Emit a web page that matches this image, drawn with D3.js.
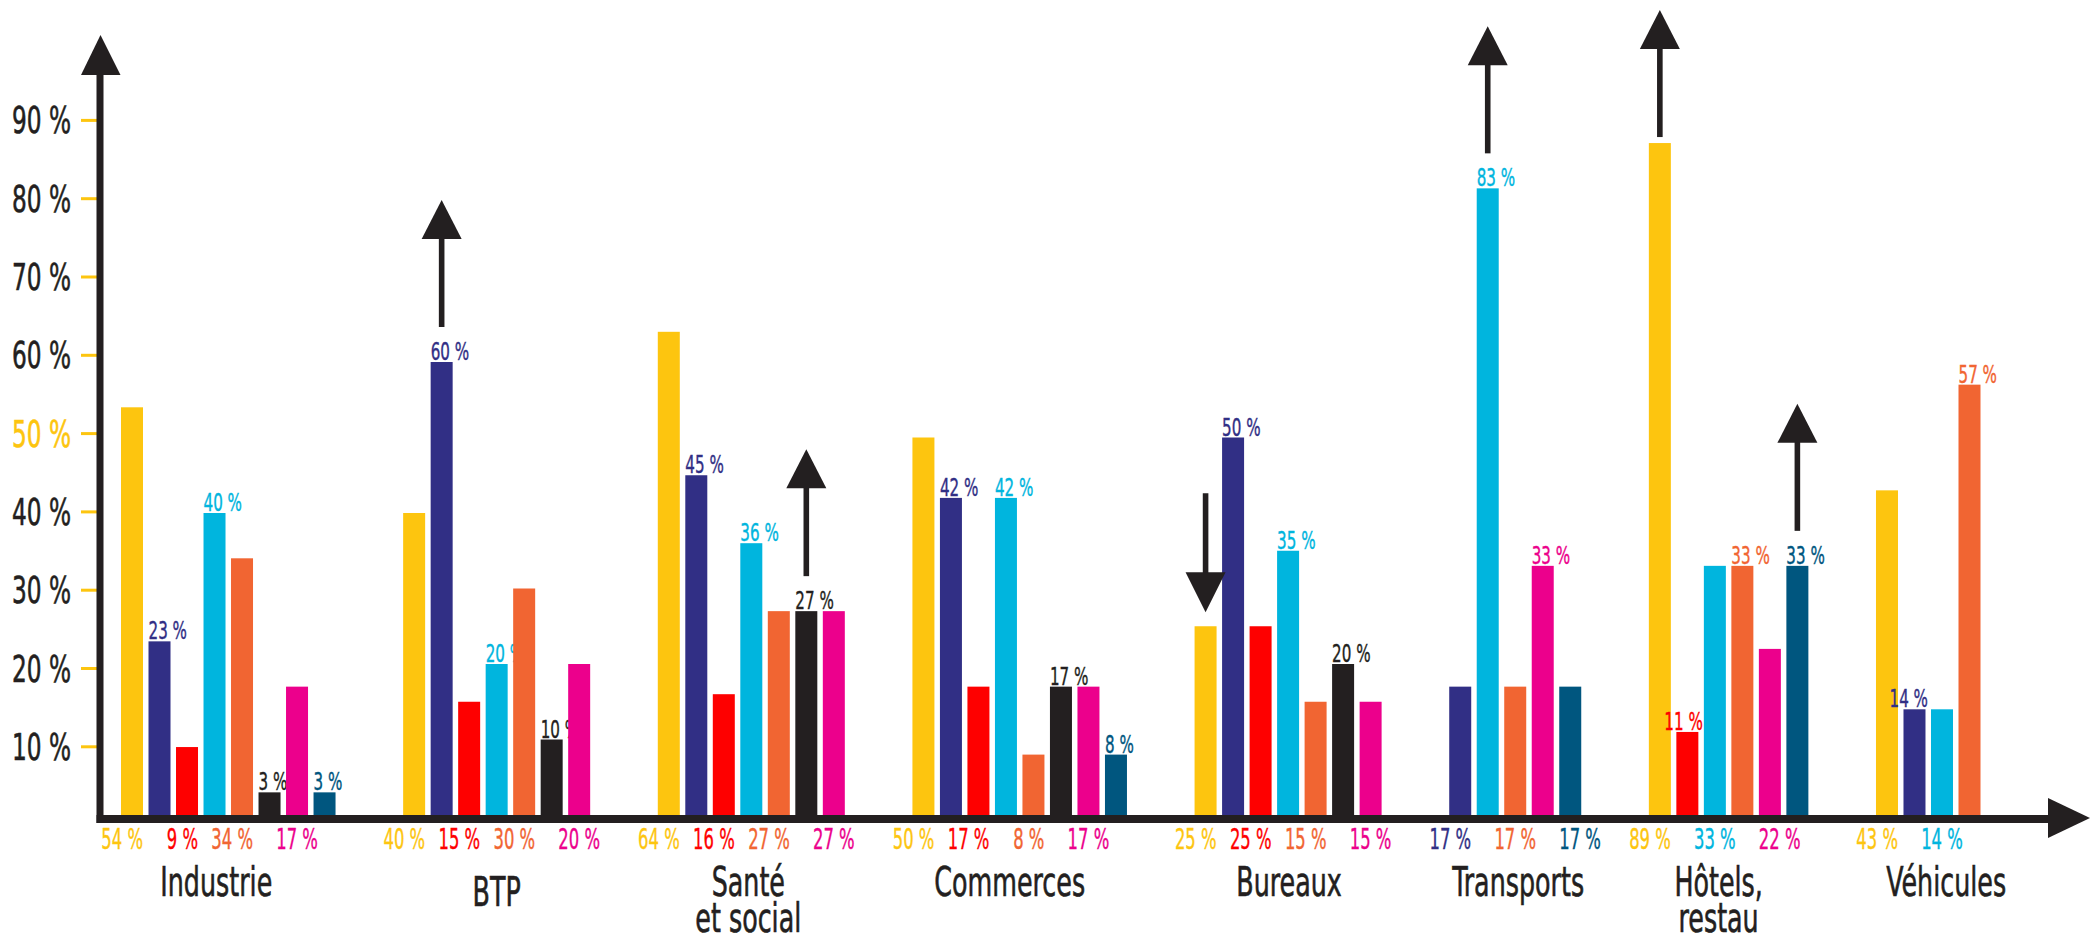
<!DOCTYPE html>
<html>
<head>
<meta charset="utf-8">
<script src="https://cdn.jsdelivr.net/npm/d3@7"></script>
<style>
  html, body { margin: 0; padding: 0; background: #ffffff; }
  svg { display: block; }
  text { font-family: "DejaVu Sans Condensed", "DejaVu Sans", sans-serif; }
</style>
</head>
<body>
<svg id="chart" width="2098" height="942"></svg>
<script>
// ---------------- DATA ----------------
const categories = ["Industrie", "BTP", "Santé\net social", "Commerces", "Bureaux", "Transports", "Hôtels,\nrestau", "Véhicules"];
const seriesKeys = ["s1", "s2", "s3", "s4", "s5", "s6", "s7", "s8"];
const seriesColors = ["#FDC50F", "#312F85", "#FE0000", "#00B5DE", "#F16532", "#231F20", "#EC008C", "#00567F"];
const s1Yellow   = [54, 40, 64, 50, 25, null, 89, 43];
const s2Navy     = [23, 60, 45, 42, 50, 17, null, 14];
const s3Red      = [9, 15, 16, 17, 25, null, 11, null];
const s4Cyan     = [40, 20, 36, 42, 35, 83, 33, 14];
const s5Orange   = [34, 30, 27, 8, 15, 17, 33, 57];
const s6Black    = [3, 10, 27, 17, 20, null, null, null];
const s7Pink     = [17, 20, 27, 17, 15, 33, 22, null];
const s8DarkBlue = [3, null, null, 8, null, 17, 33, null];
const yTickValues = [10, 20, 30, 40, 50, 60, 70, 80, 90];
const yTickHighlight = [50];
// trend arrows: category index, series index, direction
const arrowCats   = [1, 2, 4, 5, 6, 6];
const arrowSeries = [1, 5, 0, 3, 0, 7];
const arrowDirs   = ["up", "up", "down", "up", "up", "up"];

// ---------------- LAYOUT / STYLE ----------------
const INK = "#231F20";
const TICK_COLOR = "#FDC50F";
const BAR_W = 22;
const GAP_UNITS = 2.258;
const seriesData = [s1Yellow, s2Navy, s3Red, s4Cyan, s5Orange, s6Black, s7Pink, s8DarkBlue];
const bottomAnchor = ["end", "end", "end", "middle", "end", "middle", "middle", "start"];
const bottomAnchorOverride = { "5-4": "middle", "6-6": "start" };
const topLabelDx = { "6-2": -12, "7-1": -14 };
const catDx = [-12, 0, -3, -10, 1, 3, -10, 18];
const catDy = [0, 10, 0, 0, 0, 0, 0, 0];

const svg = d3.select("#chart");

// horizontal condensing factor so that a sample string reaches the wanted width
function squeeze(sample, size, wanted) {
  const t = svg.append("text").attr("font-size", size).text(sample);
  const w = t.node().getComputedTextLength();
  t.remove();
  return Math.min(1, wanted / w);
}
const SX_TICK = squeeze("90 %", 37, 59);
const SX_TOP = squeeze("60 %", 25.5, 38.5);
const SX_BOT = squeeze("54 %", 29, 41.7);
const SX_CAT = squeeze("Industrie", 40, 112);

// build bars (packed within each group)
const bars = [];
let idx = 0;
categories.forEach((c, ci) => {
  let pos = 0;
  seriesData.forEach((arr, si) => {
    const v = arr[ci];
    if (v == null) return;
    bars.push({ ci, si, v, pos, unit: idx + ci * GAP_UNITS });
    idx++; pos++;
  });
});

const x = d3.scaleLinear().domain([0, d3.max(bars, d => d.unit)]).range([121, 1958.5]);
const yBar = d3.scaleLinear().domain([0, 100]).range([815, 60]);
const yTick = d3.scaleLinear().domain([0, 100]).range([824.6, 41.6]);

// ---- Y axis ticks + labels
const yAxis = d3.axisLeft(yTick)
  .tickValues(yTickValues)
  .tickSize(20)
  .tickPadding(0)
  .tickFormat(d => d + " %");
const gy = svg.append("g").attr("transform", "translate(101,0)").call(yAxis);
gy.attr("font-family", null);
gy.select(".domain").remove();
gy.selectAll(".tick line").attr("stroke", TICK_COLOR).attr("stroke-width", 3);
gy.selectAll(".tick text")
  .attr("x", null).attr("dy", null)
  .attr("transform", `translate(-30,13) scale(${SX_TICK},1)`)
  .attr("text-anchor", "end")
  .attr("font-size", 37)
  .attr("fill", d => yTickHighlight.includes(d) ? TICK_COLOR : INK)
  .attr("stroke", d => yTickHighlight.includes(d) ? TICK_COLOR : INK)
  .attr("stroke-width", 0.6);

// ---- bars and value labels (interleaved draw order)
const gBars = svg.append("g");
bars.forEach(b => {
  const x0 = x(b.unit);
  const yT = yBar(b.v);
  gBars.append("rect")
    .attr("x", x0).attr("y", yT)
    .attr("width", BAR_W).attr("height", yBar(0) - yT)
    .attr("fill", seriesColors[b.si]);
  const key = b.ci + "-" + b.si;
  const label = b.v + " %";
  if (b.pos % 2 === 1) {
    const dx = topLabelDx[key] || 0;
    gBars.append("text")
      .attr("transform", `translate(${x0 + dx},${yT - 2}) scale(${SX_TOP},1)`)
      .attr("font-size", 25.5)
      .attr("fill", seriesColors[b.si])
      .attr("stroke", seriesColors[b.si]).attr("stroke-width", 0.4)
      .text(label);
  } else {
    const anchor = bottomAnchorOverride[key] || bottomAnchor[b.si];
    const ax = anchor === "end" ? x0 + BAR_W : anchor === "middle" ? x0 + BAR_W / 2 : x0;
    gBars.append("text")
      .attr("transform", `translate(${ax},849) scale(${SX_BOT},1)`)
      .attr("text-anchor", anchor)
      .attr("font-size", 29)
      .attr("fill", seriesColors[b.si])
      .attr("stroke", seriesColors[b.si]).attr("stroke-width", 0.4)
      .text(label);
  }
});

// ---- category labels
const groups = d3.group(bars, d => d.ci);
categories.forEach((c, ci) => {
  const gb = groups.get(ci);
  const cx = (x(d3.min(gb, d => d.unit)) + x(d3.max(gb, d => d.unit)) + BAR_W) / 2 + catDx[ci];
  c.split("\n").forEach((line, li) => {
    svg.append("text")
      .attr("transform", `translate(${cx},${896 + catDy[ci] + li * 36}) scale(${SX_CAT},1)`)
      .attr("text-anchor", "middle")
      .attr("font-size", 40)
      .attr("fill", INK)
      .attr("stroke", INK).attr("stroke-width", 0.6)
      .text(line);
  });
});

// ---- axes (arrows)
const gAx = svg.append("g").attr("fill", INK);
gAx.append("rect").attr("x", 96.5).attr("y", 74).attr("width", 7).attr("height", 823 - 74);
gAx.append("path").attr("d", "M81,75 L120.5,75 L100.5,35 Z");
gAx.append("rect").attr("x", 96.5).attr("y", 815).attr("width", 2049 - 96.5).attr("height", 8);
gAx.append("path").attr("d", "M2048,798 L2048,838 L2090,818 Z");

// ---- trend arrows
const gArr = svg.append("g").attr("fill", INK);
arrowCats.forEach((ci, i) => {
  const b = bars.find(d => d.ci === ci && d.si === arrowSeries[i]);
  const cx = x(b.unit) + BAR_W / 2;
  const yT = yBar(b.v);
  if (arrowDirs[i] === "up") {
    const bottom = yT - (b.pos % 2 === 1 ? 35 : 6);
    const tip = bottom - 127;
    gArr.append("rect").attr("x", cx - 2.8).attr("y", tip + 38).attr("width", 5.6).attr("height", bottom - tip - 38);
    gArr.append("path").attr("d", `M${cx - 20},${tip + 39} L${cx + 20},${tip + 39} L${cx},${tip} Z`);
  } else {
    const tip = yT - 14;
    const top = tip - 119;
    gArr.append("rect").attr("x", cx - 2.8).attr("y", top).attr("width", 5.6).attr("height", tip - 39 - top + 1);
    gArr.append("path").attr("d", `M${cx - 20},${tip - 40} L${cx + 20},${tip - 40} L${cx},${tip} Z`);
  }
});
</script>
</body>
</html>
